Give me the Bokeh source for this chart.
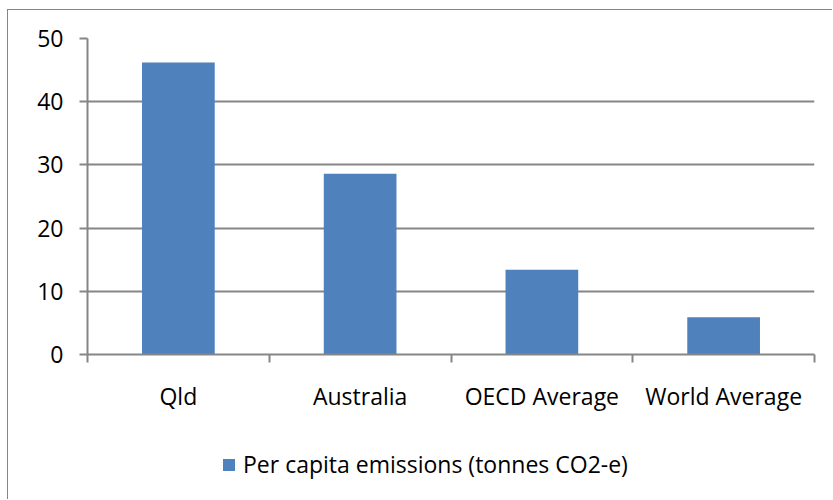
from bokeh.plotting import figure
from bokeh.layouts import column
from bokeh.models import Range1d, FixedTicker, ColumnDataSource, Legend, LegendItem
from bokeh.embed import file_html
from bokeh.resources import INLINE

categories = ["Qld", "Australia", "OECD Average", "World Average"]
emissions = [46.2, 28.6, 13.4, 5.9]
y_ticks = [0, 10, 20, 30, 40, 50]
series_name = "Per capita emissions (tonnes CO2-e)"

FONT = "Open Sans"
FS = "23px"
GRAY = "#868686"
BLUE = "#4F81BD"

xs = [i + 0.5 for i in range(len(categories))]
src = ColumnDataSource(data=dict(x=xs, top=emissions, cat=categories))

W = 824
H1 = 420
H2 = 69

p = figure(width=W, height=H1, output_backend="svg", toolbar_location=None,
           x_range=Range1d(0, len(categories)), y_range=Range1d(0, 50),
           min_border_left=79, min_border_right=18, min_border_top=28, min_border_bottom=76)
p.outline_line_color = None
p.background_fill_color = "white"
p.border_fill_color = "white"

r = p.vbar(x="x", top="top", width=0.4, bottom=0, source=src, fill_color=BLUE, line_color=None)

# y axis
p.yaxis.ticker = FixedTicker(ticks=y_ticks)
p.yaxis.axis_line_color = GRAY
p.yaxis.axis_line_width = 2
p.yaxis.major_tick_line_color = GRAY
p.yaxis.major_tick_line_width = 2
p.yaxis.major_tick_out = 8
p.yaxis.major_tick_in = 0
p.yaxis.minor_tick_line_color = None
p.yaxis.major_label_text_font = FONT
p.yaxis.major_label_text_font_size = FS
p.yaxis.major_label_text_color = "black"
p.yaxis.major_label_standoff = 16

# x axis: labels at category centres, ticks at category boundaries
p.xaxis.ticker = FixedTicker(ticks=xs, minor_ticks=list(range(len(categories) + 1)))
p.xaxis.major_label_overrides = {x: c for x, c in zip(xs, categories)}
p.xaxis.axis_line_color = GRAY
p.xaxis.axis_line_width = 2
p.xaxis.major_tick_line_color = None
p.xaxis.major_tick_out = 0
p.xaxis.major_tick_in = 0
p.xaxis.minor_tick_line_color = GRAY
p.xaxis.minor_tick_line_width = 2
p.xaxis.minor_tick_out = 8
p.xaxis.minor_tick_in = 0
p.xaxis.major_label_text_font = FONT
p.xaxis.major_label_text_font_size = FS
p.xaxis.major_label_text_color = "black"
p.xaxis.major_label_standoff = 17

p.xgrid.grid_line_color = None
p.ygrid.ticker = FixedTicker(ticks=y_ticks)
p.ygrid.grid_line_color = GRAY
p.ygrid.grid_line_width = 2

# legend strip (same series; its ranges keep the bars far out of view)
p2 = figure(width=W, height=H2, output_backend="svg", toolbar_location=None,
            x_range=Range1d(1000, 1001), y_range=Range1d(1000, 1001),
            x_axis_location=None, y_axis_location=None,
            min_border_left=0, min_border_right=0, min_border_top=0, min_border_bottom=0)
p2.outline_line_color = None
p2.grid.visible = False
p2.background_fill_color = "white"
p2.border_fill_color = "white"
r2 = p2.vbar(x="x", top="top", width=0.4, bottom=0, source=src, fill_color=BLUE, line_color=None)

legend = Legend(items=[LegendItem(label=series_name, renderers=[r2])],
                location=(134, 19), orientation="horizontal",
                glyph_width=15, glyph_height=15, label_standoff=7,
                padding=0, margin=0, border_line_color=None, background_fill_alpha=0,
                label_text_font=FONT, label_text_font_size=FS, label_text_color="black")
p2.add_layout(legend, "center")

layout = column(p, p2, spacing=0)
layout.margin = (9, 0, 0, 7)
layout.styles = {"border-left": "1.5px solid #868686", "border-top": "1.5px solid #868686",
                 "background-color": "white"}

open("out.html", "w").write(file_html(layout, INLINE))
